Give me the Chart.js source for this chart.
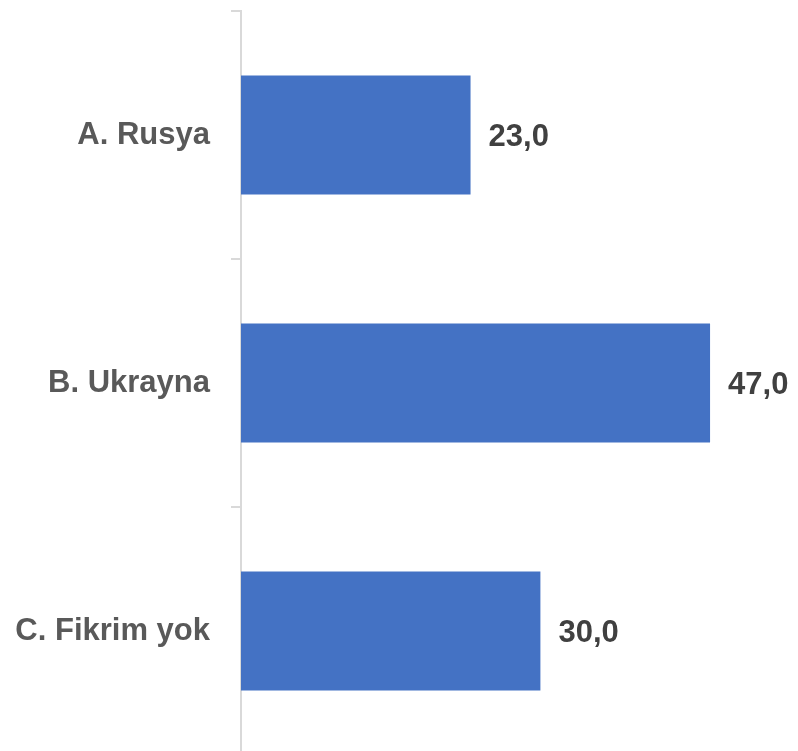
<!DOCTYPE html>
<html>
<head>
<meta charset="utf-8">
<script src="https://cdn.jsdelivr.net/npm/chart.js@4"></script>
<style>
  html, body { margin: 0; padding: 0; background: #fff; overflow: hidden; }
  #wrap { width: 798px; height: 755px; }
</style>
</head>
<body>
<div id="wrap"><canvas id="chart"></canvas></div>
<script>
// ---- Data ----
const categories = ["A. Rusya", "B. Ukrayna", "C. Fikrim yok"];
const values = [23.0, 47.0, 30.0];

// ---- Value labels next to bar ends ----
const valueLabels = {
  id: "valueLabels",
  afterDatasetsDraw(chart) {
    const ctx = chart.ctx;
    const meta = chart.getDatasetMeta(0);
    ctx.save();
    ctx.font = "bold 31px 'Liberation Sans', Arial, sans-serif";
    ctx.fillStyle = "#404040";
    ctx.textAlign = "left";
    ctx.textBaseline = "middle";
    meta.data.forEach((bar, i) => {
      const text = values[i].toFixed(1).replace(".", ",");
      ctx.fillText(text, bar.x + 18, bar.y + 2);
    });
    ctx.restore();
  },
};

new Chart(document.getElementById("chart"), {
  type: "bar",
  data: {
    labels: categories,
    datasets: [
      {
        data: values,
        backgroundColor: "#4472C4",
        barPercentage: 0.48,
        categoryPercentage: 1,
      },
    ],
  },
  options: {
    indexAxis: "y",
    responsive: true,
    maintainAspectRatio: false,
    animation: false,
    layout: { padding: { top: 11, right: 58, bottom: 0, left: 0 } },
    plugins: { legend: { display: false }, tooltip: { enabled: false } },
    scales: {
      x: { display: false, min: 0, max: 50 },
      y: {
        afterFit(scale) {
          scale.width = 241;
          scale.paddingTop = 0;
          scale.paddingBottom = 0;
        },
        grid: {
          drawOnChartArea: false,
          drawTicks: true,
          tickLength: 10,
          color: "#d9d9d9",
          lineWidth: 2,
        },
        border: { display: true, color: "#d9d9d9", width: 2 },
        ticks: {
          padding: 21,
          color: "#595959",
          font: { family: "'Liberation Sans', Arial, sans-serif", size: 31, weight: "bold" },
        },
      },
    },
  },
  plugins: [valueLabels],
});
</script>
</body>
</html>
